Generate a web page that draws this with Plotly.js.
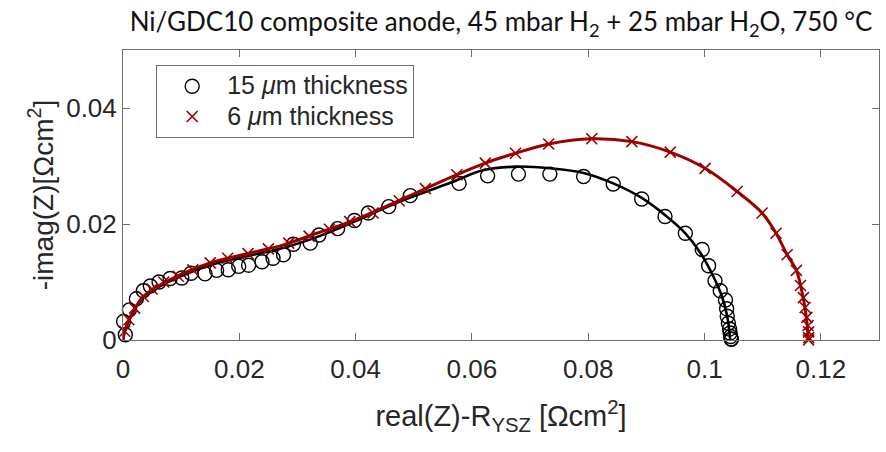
<!DOCTYPE html>
<html>
<head>
<meta charset="utf-8">
<script src="https://cdn.plot.ly/plotly-3.0.1.min.js"></script>
<style>html,body{margin:0;padding:0;background:#fff;}#chart{width:886px;height:452px;}</style>
</head>
<body>
<div id="chart"></div>
<script>
// 15 um thickness: measured points
const thick15X = [0.0004,0.0001,0.0011,0.0023,0.0035,0.0047,0.0062,0.0081,0.0101,0.0117,0.0141,0.0161,0.0181,0.0199,0.0216,0.0239,0.0258,0.0276,0.0293,0.0322,0.0337,0.0369,0.0398,0.0422,0.0457,0.0494,0.0578,0.0627,0.0680,0.0734,0.0792,0.0843,0.0892,0.0932,0.0967,0.0996,0.1007,0.1018,0.1027,0.1036,0.1038,0.1039,0.1041,0.1043,0.1044,0.1045,0.1046,0.1046];
const thick15Y = [0.0009,0.0032,0.0052,0.0071,0.0085,0.0093,0.0100,0.0106,0.0107,0.0115,0.0114,0.0120,0.0121,0.0127,0.0129,0.0135,0.0141,0.0147,0.0165,0.0167,0.0181,0.0192,0.0206,0.0219,0.0230,0.0249,0.0270,0.0283,0.0286,0.0286,0.0282,0.0269,0.0243,0.0213,0.0184,0.0156,0.0128,0.0102,0.0085,0.0069,0.0054,0.0041,0.0029,0.0019,0.0012,0.0006,0.0002,0.0001];
// 15 um thickness: fit curve
const fit15X = [0.0000,0.0002,0.0010,0.0035,0.0080,0.0150,0.0220,0.0280,0.0340,0.0400,0.0470,0.0563,0.0620,0.0677,0.0735,0.0792,0.0843,0.0892,0.0935,0.0967,0.0993,0.1015,0.1030,0.1039,0.1044];
const fit15Y = [0.0000,0.0012,0.0033,0.0073,0.0101,0.0129,0.0146,0.0160,0.0180,0.0205,0.0236,0.0271,0.0293,0.0299,0.0296,0.0288,0.0270,0.0245,0.0213,0.0184,0.0150,0.0110,0.0075,0.0041,0.0001];
// 6 um thickness: measured points
const thick6X = [0.0003,0.0010,0.0020,0.0035,0.0050,0.0070,0.0095,0.0120,0.0150,0.0180,0.0215,0.0250,0.0285,0.0320,0.0355,0.0390,0.0430,0.0475,0.0520,0.0574,0.0623,0.0675,0.0732,0.0806,0.0875,0.0941,0.1001,0.1056,0.1099,0.1123,0.1142,0.1158,0.1165,0.1170,0.1173,0.1176,0.1178,0.1179,0.1179,0.1179];
const thick6Y = [0.0015,0.0035,0.0055,0.0075,0.0088,0.0100,0.0110,0.0121,0.0133,0.0141,0.0149,0.0157,0.0167,0.0179,0.0191,0.0204,0.0219,0.0240,0.0261,0.0285,0.0305,0.0322,0.0338,0.0347,0.0342,0.0324,0.0296,0.0256,0.0219,0.0184,0.0147,0.0120,0.0094,0.0073,0.0056,0.0039,0.0025,0.0014,0.0004,0.0000];
// 6 um thickness: fit curve
const fit6X = [0.0000,0.0003,0.0010,0.0035,0.0081,0.0150,0.0219,0.0276,0.0333,0.0391,0.0465,0.0574,0.0623,0.0675,0.0732,0.0806,0.0875,0.0941,0.1001,0.1056,0.1099,0.1123,0.1142,0.1158,0.1166,0.1172,0.1176,0.1179];
const fit6Y = [0.0000,0.0015,0.0035,0.0075,0.0104,0.0133,0.0150,0.0164,0.0184,0.0204,0.0236,0.0285,0.0305,0.0322,0.0338,0.0347,0.0342,0.0324,0.0296,0.0256,0.0219,0.0184,0.0147,0.0120,0.0090,0.0060,0.0030,0.0000];

const xTicks = [0,0.02,0.04,0.06,0.08,0.1,0.12];
const yTicks = [0,0.02,0.04];

const BLACK = '#000000';
const RED = '#990000';
const AX = '#6e6e6e';

const traces = [
  {x: fit15X, y: fit15Y, mode: 'lines', line: {color: BLACK, width: 2.6, shape: 'spline'}, showlegend: false, hoverinfo: 'skip'},
  {x: thick15X, y: thick15Y, mode: 'markers', name: '<span style="font-size:25px">15 <i>μ</i>m thickness</span>', cliponaxis: false,
   marker: {symbol: 'circle-open', size: 14, color: BLACK, line: {color: BLACK, width: 1.4}}},
  {x: fit6X, y: fit6Y, mode: 'lines', line: {color: RED, width: 3, shape: 'spline'}, showlegend: false, hoverinfo: 'skip'},
  {x: thick6X, y: thick6Y, mode: 'markers', name: '<span style="font-size:25px">6 <i>μ</i>m thickness</span>', cliponaxis: false,
   marker: {symbol: 'x-thin', size: 11, color: RED, line: {color: RED, width: 1.6}}}
];

const layout = {
  width: 886, height: 452,
  margin: {l: 123, r: 7, t: 50, b: 112},
  paper_bgcolor: '#ffffff', plot_bgcolor: '#ffffff',
  font: {family: 'Liberation Sans, Arial, sans-serif', color: '#262626', size: 26},
  title: {
    text: 'Ni/GDC10 composite anode, 45 mbar H<sub>2</sub> + 25 mbar H<sub>2</sub>O, 750 °C',
    font: {family: 'Lato, Noto Sans, sans-serif', size: 26, color: '#111111'},
    xref: 'paper', x: 0.5, xanchor: 'center',
    yref: 'container', y: 1 - 22/452, yanchor: 'middle'
  },
  xaxis: {
    range: [0, 0.13], tickvals: xTicks, ticktext: xTicks.map(String),
    ticks: 'inside', ticklen: 7, tickcolor: AX, tickwidth: 1,
    showline: true, linecolor: AX, linewidth: 1, mirror: 'ticks',
    showgrid: false, zeroline: false, ticklabelstandoff: 6,
    tickfont: {size: 26, color: '#262626'},
    title: {text: 'real(Z)-R<sub>YSZ</sub> [Ωcm<sup>2</sup>]', font: {size: 29, color: '#262626'}, standoff: 22}
  },
  yaxis: {
    range: [0, 0.05], tickvals: yTicks, ticktext: yTicks.map(String),
    ticks: 'inside', ticklen: 7, tickcolor: AX, tickwidth: 1,
    showline: true, linecolor: AX, linewidth: 1, mirror: 'ticks',
    showgrid: false, zeroline: false,
    tickfont: {size: 26, color: '#262626'},
    title: {text: '-imag(Z)[Ωcm<sup>2</sup>]', font: {size: 28, color: '#262626'}, standoff: 4}
  },
  legend: {
    x: 0.0439, y: 0.948, xanchor: 'left', yanchor: 'top',
    bgcolor: '#ffffff', bordercolor: AX, borderwidth: 1,
    font: {size: 21, color: '#262626'}, itemwidth: 60
  },
  showlegend: true
};

Plotly.newPlot('chart', traces, layout, {displayModeBar: false, staticPlot: true});
</script>
</body>
</html>
